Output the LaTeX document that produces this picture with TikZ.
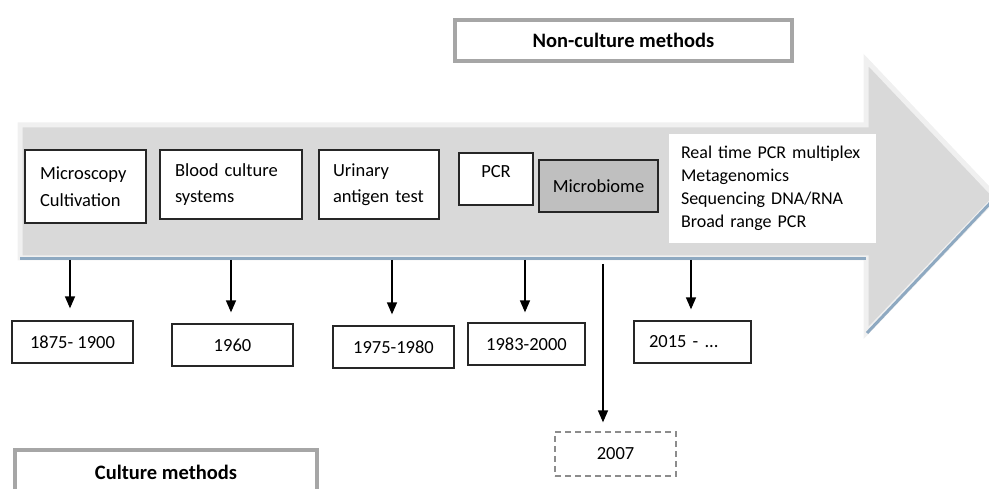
\documentclass[tikz,border=0pt]{standalone}
\usepackage{fontspec}
\setmainfont{Carlito}
\usetikzlibrary{arrows.meta}
\definecolor{arrowgray}{HTML}{D9D9D9}
\definecolor{rimgray}{HTML}{F0F0F0}
\definecolor{edgeblue}{HTML}{8EA9C1}
\definecolor{framegray}{HTML}{A6A6A6}
\definecolor{microgray}{HTML}{BFBFBF}

\begin{document}
\begin{tikzpicture}[x=1pt, y=-1pt,
  every node/.style={font=\fontsize{18.5}{26.5}\selectfont},
  methodbox/.style={draw=black!85, line width=1.3pt, fill=white, inner sep=0pt, align=left},
  datebox/.style={draw=black!85, line width=1.3pt, fill=white, inner sep=0pt, minimum width=121pt, minimum height=42pt},
  titlebox/.style={draw=framegray, line width=4pt, fill=white, inner sep=0pt, font=\fontsize{20.5}{26}\selectfont\bfseries},
  timeline/.style={line width=1.5pt, -{Triangle[width=10pt,length=12pt]}}]
\useasboundingbox (0,0) rectangle (989,489);
\clip (0,0) rectangle (989,489);
% Pfeil
\filldraw[fill=arrowgray, draw=rimgray, line width=5pt, line join=miter]
  (20,125) -- (866,125) -- (866,60) -- (996,197) -- (866,333) -- (866,258) -- (20,258) -- cycle;
\draw[edgeblue, line width=3pt] (20,259) -- (866,259);
\draw[edgeblue, line width=3pt] (867,333) -- (996,197);
% Titel
\node[titlebox, minimum width=337pt, minimum height=41pt] (noncult) at (623.5,40.5) {Non-culture methods};
\node[titlebox, minimum width=302pt, minimum height=44pt] (cult) at (166,472) {Culture methods};
% Methoden
\node[methodbox, minimum width=121pt, minimum height=73pt, text width=91pt] (micro) at (85.5,186.5) {Microscopy\\Cultivation};
\node[methodbox, minimum width=142pt, minimum height=69pt, text width=112pt] (blood) at (231,184.5) {Blood culture\\systems};
\node[methodbox, minimum width=120pt, minimum height=69pt, text width=92pt] (urin) at (379,184.5) {Urinary\\antigen test};
\node[methodbox, minimum width=74pt, minimum height=52pt, text height=25pt, text depth=27pt] (pcr) at (496,179) {PCR};
\node[methodbox, fill=microgray, minimum width=119pt, minimum height=52pt] (mbiome) at (598.5,186) {Microbiome};
\node[methodbox, draw=none, minimum width=207pt, minimum height=109pt, text width=183pt,
  font=\fontsize{18}{23}\selectfont] (newer) at (772.5,188.5)
  {Real time PCR multiplex\\Metagenomics\\Sequencing DNA/RNA\\Broad range PCR};
% Jahre
\node[datebox] (d1) at (72.5,342) {1875- 1900};
\node[datebox] (d2) at (232.5,345) {1960};
\node[datebox] (d3) at (393.5,347) {1975-1980};
\node[datebox, minimum width=117pt] (d4) at (526.5,344) {1983-2000};
\node[datebox, draw=black!45, dash pattern=on 6pt off 4pt, minimum height=44pt] (d5) at (615.5,454) {2007};
\node[datebox, minimum width=117pt, text width=87pt, align=left] (d6) at (692.5,342) {2015 - ...};
% Zeitpunkte
\coordinate (t1) at (70,260);
\coordinate (t2) at (231,260);
\coordinate (t3) at (392,260);
\coordinate (t4) at (525,260);
\coordinate (t5) at (603,264);
\coordinate (t6) at (691,260);
\draw[timeline, shorten >=12pt] (t1) -- (t1 |- d1.north);
\draw[timeline, shorten >=11pt] (t2) -- (t2 |- d2.north);
\draw[timeline, shorten >=11pt] (t3) -- (t3 |- d3.north);
\draw[timeline, shorten >=10pt] (t4) -- (t4 |- d4.north);
\draw[timeline, shorten >=9pt] (t5) -- (t5 |- d5.north);
\draw[timeline, shorten >=11pt] (t6) -- (t6 |- d6.north);
\end{tikzpicture}
\end{document}
